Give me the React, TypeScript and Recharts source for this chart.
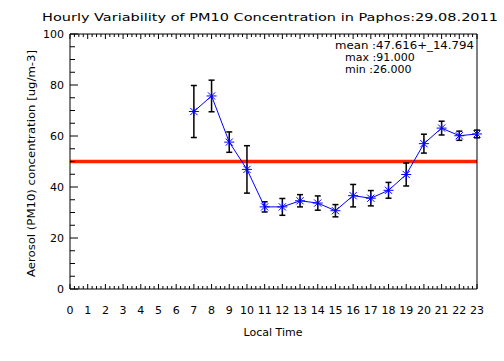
import {
  ComposedChart,
  Line,
  XAxis,
  YAxis,
  ErrorBar,
  ReferenceLine,
} from "recharts";

// hourly PM10 means and std devs, Paphos 29.08.2011
const hours = [7, 8, 9, 10, 11, 12, 13, 14, 15, 16, 17, 18, 19, 20, 21, 22, 23];
const pm10 = [69.6, 75.7, 57.6, 46.9, 32.2, 32.2, 34.6, 33.7, 30.7, 36.6, 35.6, 38.7, 44.9, 57.0, 63.1, 60.1, 60.8];
const pm10Std = [10.2, 6.2, 4.0, 9.3, 2.0, 3.3, 2.4, 2.8, 2.4, 4.4, 3.0, 3.1, 4.5, 3.7, 2.7, 1.8, 1.5];

const hourLabels = Array.from({ length: 24 }, (_, i) => i);
const yLabels = [0, 20, 40, 60, 80, 100];
const limitValue = 50;
const statsLines = ["mean :47.616+_14.794", "max :91.000", "min :26.000"];

const data = hours.map((h, i) => ({ hour: h, pm10: pm10[i], err: pm10Std[i] }));

const xMinor: number[] = [];
for (let i = 0; i <= 23 * 4; i++) xMinor.push(i / 4);
const yMinor: number[] = [];
for (let v = 0; v <= 100; v += 5) yMinor.push(v);

const FONT = "DejaVu Sans";

const isInt = (v: number) => Math.abs(v - Math.round(v)) < 1e-6;

const BottomTick = (p: any) => {
  const v = p.payload.value;
  const major = isInt(v);
  return (
    <g>
      <line x1={p.x} x2={p.x} y1={p.y} y2={p.y - (major ? 5 : 3)} stroke="#000" />
      {major && hourLabels.includes(Math.round(v)) && (
        <text x={p.x} y={p.y + 25} textAnchor="middle" fontSize={11} fontFamily={FONT} fill="#000">
          {Math.round(v)}
        </text>
      )}
    </g>
  );
};

const TopTick = (p: any) => {
  const major = isInt(p.payload.value);
  return <line x1={p.x} x2={p.x} y1={p.y} y2={p.y + (major ? 5 : 3)} stroke="#000" />;
};

const LeftTick = (p: any) => {
  const v = p.payload.value;
  const major = v % 20 === 0;
  return (
    <g>
      <line x1={p.x} x2={p.x + (major ? 8 : 5)} y1={p.y} y2={p.y} stroke="#000" />
      {yLabels.includes(v) && (
        <text x={p.x - 6} y={p.y + 4} textAnchor="end" fontSize={11} fontFamily={FONT} fill="#000">
          {v}
        </text>
      )}
    </g>
  );
};

const RightTick = (p: any) => {
  const major = p.payload.value % 20 === 0;
  return <line x1={p.x} x2={p.x - (major ? 8 : 5)} y1={p.y} y2={p.y} stroke="#000" />;
};

const Star = (p: any) => {
  const { cx, cy } = p;
  if (cx == null || cy == null) return null;
  const r = 5;
  const d = 3.6;
  return (
    <g stroke="#0000ff" strokeWidth={1}>
      <line x1={cx - r} x2={cx + r} y1={cy} y2={cy} />
      <line x1={cx} x2={cx} y1={cy - r} y2={cy + r} />
      <line x1={cx - d} x2={cx + d} y1={cy - d} y2={cy + d} />
      <line x1={cx - d} x2={cx + d} y1={cy + d} y2={cy - d} />
    </g>
  );
};

export default function App() {
  return (
    <div style={{ position: "absolute", left: 0, top: 0, width: 504, height: 361, background: "#fff" }}>
      <ComposedChart width={504} height={361} data={data} margin={{ top: 0, right: 0, bottom: 0, left: 0 }}>
        <XAxis
          xAxisId="b"
          dataKey="hour"
          type="number"
          domain={[0, 23]}
          ticks={xMinor}
          interval={0}
          tickSize={0}
          tickMargin={0}
          tickLine={false}
          tick={<BottomTick />}
          height={72}
          stroke="#000"
        />
        <XAxis
          xAxisId="t"
          orientation="top"
          dataKey="hour"
          type="number"
          domain={[0, 23]}
          ticks={xMinor}
          interval={0}
          tickSize={0}
          tickMargin={0}
          tickLine={false}
          tick={<TopTick />}
          height={34}
          stroke="#000"
        />
        <YAxis
          yAxisId="l"
          type="number"
          domain={[0, 100]}
          ticks={yMinor}
          interval={0}
          tickSize={0}
          tickMargin={0}
          tickLine={false}
          tick={<LeftTick />}
          width={70}
          stroke="#000"
        />
        <YAxis
          yAxisId="r"
          orientation="right"
          type="number"
          domain={[0, 100]}
          ticks={yMinor}
          interval={0}
          tickSize={0}
          tickMargin={0}
          tickLine={false}
          tick={<RightTick />}
          width={27}
          stroke="#000"
        />
        <ReferenceLine xAxisId="b" yAxisId="l" y={limitValue} stroke="#ff2200" strokeWidth={3.5} />
        <Line
          xAxisId="b"
          yAxisId="l"
          dataKey="pm10"
          stroke="#0000ff"
          strokeWidth={1}
          dot={<Star />}
          activeDot={false}
          isAnimationActive={false}
        >
          <ErrorBar dataKey="err" width={3} stroke="#000" strokeWidth={1.5} direction="y" isAnimationActive={false} />
        </Line>
        <text x={270} y={21} textAnchor="middle" fontSize={11} fontFamily={FONT} textLength={456} lengthAdjust="spacingAndGlyphs">
          Hourly Variability of PM10 Concentration in Paphos:29.08.2011
        </text>
        <text x={273} y={336} textAnchor="middle" fontSize={11} fontFamily={FONT}>
          Local Time
        </text>
        <text
          transform="translate(31,163.5) rotate(-90)"
          textAnchor="middle"
          dy={4}
          fontSize={11}
          fontFamily={FONT}
          textLength={227}
          lengthAdjust="spacingAndGlyphs"
        >
          Aerosol (PM10) concentration [ug/m-3]
        </text>
        <text x={335} y={49} fontSize={11} fontFamily={FONT} textLength={139} lengthAdjust="spacingAndGlyphs">
          {statsLines[0]}
        </text>
        <text x={345} y={61} fontSize={11} fontFamily={FONT}>
          {statsLines[1]}
        </text>
        <text x={345} y={73} fontSize={11} fontFamily={FONT}>
          {statsLines[2]}
        </text>
      </ComposedChart>
    </div>
  );
}
